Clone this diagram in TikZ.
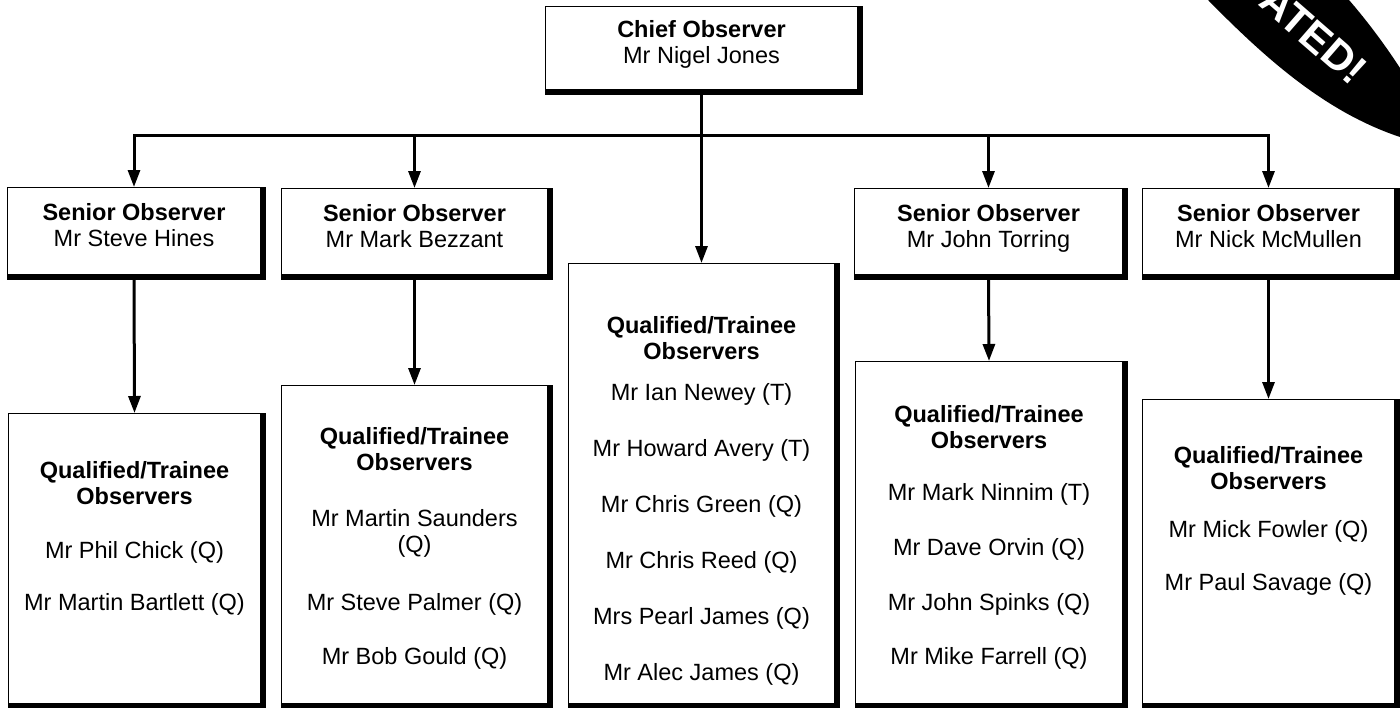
\documentclass[tikz,border=0pt]{standalone}
\usepackage{fontspec}
\setmainfont{Liberation Sans}
\usetikzlibrary{arrows.meta}

\newcommand{\obsfont}{\fontsize{23.5}{26}\selectfont}

\begin{document}
\begin{tikzpicture}[x=1pt,y=-1pt,
    obsbox/.style={draw, line width=1pt, fill=white, inner sep=0pt, anchor=north west},
    boxtext/.style={anchor=north, align=center, inner sep=0pt, font=\obsfont},
    arr/.style={line width=3pt, -{Triangle[length=17pt,width=12pt]}}]
\useasboundingbox (0,0) rectangle (1400,707);

    % boxes
    \node[obsbox, minimum width=312pt, minimum height=83pt] (chief) at (545,6) {};
    \node[obsbox, minimum width=253pt, minimum height=87pt] (sen1) at (7,187) {};
    \node[obsbox, minimum width=266pt, minimum height=86pt] (sen2) at (281,188) {};
    \node[obsbox, minimum width=268pt, minimum height=86pt] (sen4) at (854,188) {};
    \node[obsbox, minimum width=252pt, minimum height=86pt] (sen5) at (1142,188) {};
    \node[obsbox, minimum width=252pt, minimum height=290pt] (q1) at (8,413) {};
    \node[obsbox, minimum width=266pt, minimum height=318pt] (q2) at (281,385) {};
    \node[obsbox, minimum width=266pt, minimum height=440pt] (qm) at (568,263) {};
    \node[obsbox, minimum width=267pt, minimum height=342pt] (q4) at (855,361) {};
    \node[obsbox, minimum width=252pt, minimum height=304pt] (q5) at (1142,399) {};

    % schaduw rechts en onder
    \foreach \b in {chief,sen1,sen2,sen4,sen5,q1,q2,qm,q4,q5} {
        \fill (\b.north east) rectangle ([xshift=5pt,yshift=-5pt]\b.south east);
        \fill (\b.south west) rectangle ([xshift=5pt,yshift=-5pt]\b.south east);
    }

    % texts
    \node[boxtext] (chief-t) at ([yshift=-14pt]chief.north) {\textbf{Chief Observer}\\Mr Nigel Jones};
    \node[boxtext] (sen1-t) at ([yshift=-16pt]sen1.north) {\textbf{Senior Observer}\\Mr Steve Hines};
    \node[boxtext] (sen2-t) at ([yshift=-16pt]sen2.north) {\textbf{Senior Observer}\\Mr Mark Bezzant};
    \node[boxtext] (sen4-t) at ([yshift=-16pt]sen4.north) {\textbf{Senior Observer}\\Mr John Torring};
    \node[boxtext] (sen5-t) at ([yshift=-16pt]sen5.north) {\textbf{Senior Observer}\\Mr Nick McMullen};

    \node[boxtext] (q1-t) at ([yshift=-48pt]q1.north) {\textbf{Qualified/Trainee}\\\textbf{Observers}\\[28pt]
        Mr Phil Chick (Q)\\[26pt]Mr Martin Bartlett (Q)};
    \node[boxtext] (q2-t) at ([yshift=-42pt]q2.north) {\textbf{Qualified/Trainee}\\\textbf{Observers}\\[30pt]
        Mr Martin Saunders\\(Q)\\[32pt]Mr Steve Palmer (Q)\\[28pt]Mr Bob Gould (Q)};
    \node[boxtext] (qm-t) at ([yshift=-53pt]qm.north) {\textbf{Qualified/Trainee}\\\textbf{Observers}\\[15pt]
        Mr Ian Newey (T)\\[30pt]Mr Howard Avery (T)\\[30pt]Mr Chris Green (Q)\\[30pt]
        Mr Chris Reed (Q)\\[30pt]Mrs Pearl James (Q)\\[30pt]Mr Alec James (Q)};
    \node[boxtext] (q4-t) at ([yshift=-44pt]q4.north) {\textbf{Qualified/Trainee}\\\textbf{Observers}\\[26pt]
        Mr Mark Ninnim (T)\\[29pt]Mr Dave Orvin (Q)\\[29pt]Mr John Spinks (Q)\\[28pt]Mr Mike Farrell (Q)};
    \node[boxtext] (q5-t) at ([yshift=-47pt]q5.north) {\textbf{Qualified/Trainee}\\\textbf{Observers}\\[22pt]
        Mr Mick Fowler (Q)\\[27pt]Mr Paul Savage (Q)};

    % connectors
    \coordinate (bus) at (0,135);
    \draw[arr] (chief.south) -- (qm.north);
    \draw[arr] (bus -| sen5) -| (sen1.north);
    \draw[arr] (bus -| sen1) -| (sen5.north);
    \draw[arr] (bus -| sen2) -- (sen2.north);
    \draw[arr] (bus -| sen4) -- (sen4.north);
    \draw[arr] (sen1.south) -- (q1.north);
    \draw[arr] (sen2.south) -- (q2.north);
    \draw[arr] (sen4.south) -- (q4.north);
    \draw[arr] (sen5.south) -- (q5.north);

    % banner in de hoek
    \begin{scope}
    \clip (0,0) rectangle (1400,707);
    \fill (1208,0) .. controls (1265,58) and (1325,112) .. (1400,137) -- (1400,68) .. controls (1385,45) and (1368,22) .. (1349,0) -- cycle;
    \node[font=\bfseries\fontsize{42}{42}\selectfont, text=white, rotate=-41, anchor=east, inner sep=0pt] (banner) at (1361,76) {UPDATED!};
    \end{scope}

\end{tikzpicture}
\end{document}
